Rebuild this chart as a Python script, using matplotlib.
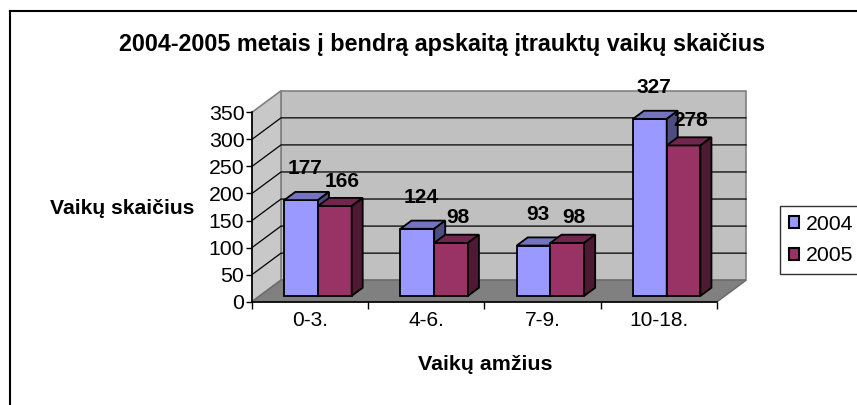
import matplotlib
matplotlib.use("Agg")
import matplotlib.pyplot as plt
from matplotlib.patches import Polygon, Patch
from matplotlib.lines import Line2D

plt.rcParams['font.family'] = ['Liberation Sans', 'DejaVu Sans']

# ---- data ----
categories = ["0-3.", "4-6.", "7-9.", "10-18."]
series_names = ["2004", "2005"]
values_2004 = [177, 124, 93, 327]
values_2005 = [166, 98, 98, 278]
y_ticks = [0, 50, 100, 150, 200, 250, 300, 350]
title = "2004-2005 metais į bendrą apskaitą įtrauktų vaikų skaičius"
ylabel = "Vaikų skaičius"
xlabel = "Vaikų amžius"

# ---- styles ----
front_cols = ["#9999FF", "#993366"]
top_cols = ["#7373BF", "#73264D"]
side_cols = ["#4D4D80", "#4D1A33"]
label_offsets = [(3, 22.5), (5, 18)]   # points, per series
W, H = 857, 405
fig = plt.figure(figsize=(W / 100, H / 100), dpi=100)
fig.patch.set_facecolor("white")

# front plane of plot area in pixels
L, R, B, T = 252, 717, 301.7, 112.3
ax = fig.add_axes([L / W, 1 - B / H, (R - L) / W, (B - T) / H])
ncat = len(categories)
ymax = y_ticks[-1]
ax.set_xlim(0, ncat)
ax.set_ylim(0, ymax)
ax.set_facecolor("none")

px_x = (R - L) / ncat
px_y = (B - T) / ymax
DX = 29 / px_x      # depth offset in data x units
DY = 21.5 / px_y    # depth offset in data y units

def P(x, y, d):
    return (x + d * DX, y + d * DY)

# walls
back = Polygon([P(0, 0, 1), P(ncat, 0, 1), P(ncat, ymax, 1), P(0, ymax, 1)],
               closed=True, facecolor="#C0C0C0", edgecolor="#808080", lw=1.2,
               clip_on=False, zorder=1)
side = Polygon([P(0, 0, 0), P(0, 0, 1), P(0, ymax, 1), P(0, ymax, 0)],
               closed=True, facecolor="#C8C8C8", edgecolor="#808080", lw=1.2,
               clip_on=False, zorder=1)
floor = Polygon([P(0, 0, 0), P(ncat, 0, 0), P(ncat, 0, 1), P(0, 0, 1)],
                closed=True, facecolor="#808080", edgecolor="#6E6E6E", lw=1.2,
                clip_on=False, zorder=1.2)
for p in (back, side, floor):
    ax.add_patch(p)

# gridlines
for v in y_ticks[1:-1]:
    x0, y0 = P(0, v, 0)
    x1, y1 = P(0, v, 1)
    x2, y2 = P(ncat, v, 1)
    ax.plot([x0, x1, x2], [y0, y1, y2], color="black", lw=0.9,
            clip_on=False, zorder=1.1)

# bars
bw = 0.29
d0, d1 = 0.27, 0.65
all_vals = [values_2004, values_2005]
for i in range(ncat):
    for s, vals in enumerate(all_vals):
        v = vals[i]
        xl = i + 0.5 + (s - 1) * bw
        xr = xl + bw
        front = [P(xl, 0, d0), P(xr, 0, d0), P(xr, v, d0), P(xl, v, d0)]
        top = [P(xl, v, d0), P(xr, v, d0), P(xr, v, d1), P(xl, v, d1)]
        sidef = [P(xr, 0, d0), P(xr, 0, d1), P(xr, v, d1), P(xr, v, d0)]
        z = 3 + i * 2 + s
        for poly, c in ((front, front_cols[s]), (top, top_cols[s]), (sidef, side_cols[s])):
            ax.add_patch(Polygon(poly, closed=True, facecolor=c, edgecolor="black",
                                 lw=1.3, joinstyle="miter", clip_on=False, zorder=z))
        ax.annotate(str(v), xy=P((xl + xr) / 2, v, d0), xytext=label_offsets[s],
                    textcoords="offset points", ha="center", va="center",
                    fontsize=15, fontweight="bold", zorder=20,
                    annotation_clip=False)

# axes
for sp in ("top", "right"):
    ax.spines[sp].set_visible(False)
ax.spines["left"].set_color("black")
ax.spines["bottom"].set_color("black")
ax.spines["left"].set_linewidth(1.2)
ax.spines["bottom"].set_linewidth(1.2)
ax.set_yticks(y_ticks)
ax.set_yticklabels([str(t) for t in y_ticks], fontsize=15.3)
ax.tick_params(axis="y", direction="out", length=4, width=1, pad=1.5)
ax.set_xticks(range(ncat + 1))
ax.set_xticklabels([""] * (ncat + 1))
ax.set_xticks([i + 0.5 for i in range(ncat)], minor=True)
ax.set_xticklabels(categories, minor=True, fontsize=15)
ax.tick_params(axis="x", which="major", direction="out", length=5, width=1)
ax.tick_params(axis="x", which="minor", length=0, pad=7)

# texts
fig.text(442 / W, 1 - 45 / H, title, ha="center", va="center",
         fontsize=16.8, fontweight="bold")
fig.text(122.5 / W, 1 - 208 / H, ylabel, ha="center", va="center",
         fontsize=15.2, fontweight="bold")
fig.text(485 / W, 1 - 365 / H, xlabel, ha="center", va="center",
         fontsize=15.4, fontweight="bold")

# legend
handles = [Patch(facecolor=front_cols[k], edgecolor="black", lw=1.5, label=series_names[k])
           for k in range(2)]
leg = fig.legend(handles=handles, loc="upper left", bbox_to_anchor=(780 / W, 1 - 206 / H),
                 fontsize=15.3, frameon=True, fancybox=False, handlelength=0.5,
                 handleheight=0.5, handletextpad=0.3, borderpad=0.4, labelspacing=0.6,
                 borderaxespad=0)
leg.get_frame().set_edgecolor("black")
leg.get_frame().set_linewidth(1.0)

# outer frame
fig.add_artist(Line2D([10 / W, 10 / W], [0, 1 - 11 / H], color="black", lw=1.5))
fig.add_artist(Line2D([10 / W, 1], [1 - 11 / H, 1 - 11 / H], color="black", lw=1.5))

fig.savefig("out.png", dpi=100)
